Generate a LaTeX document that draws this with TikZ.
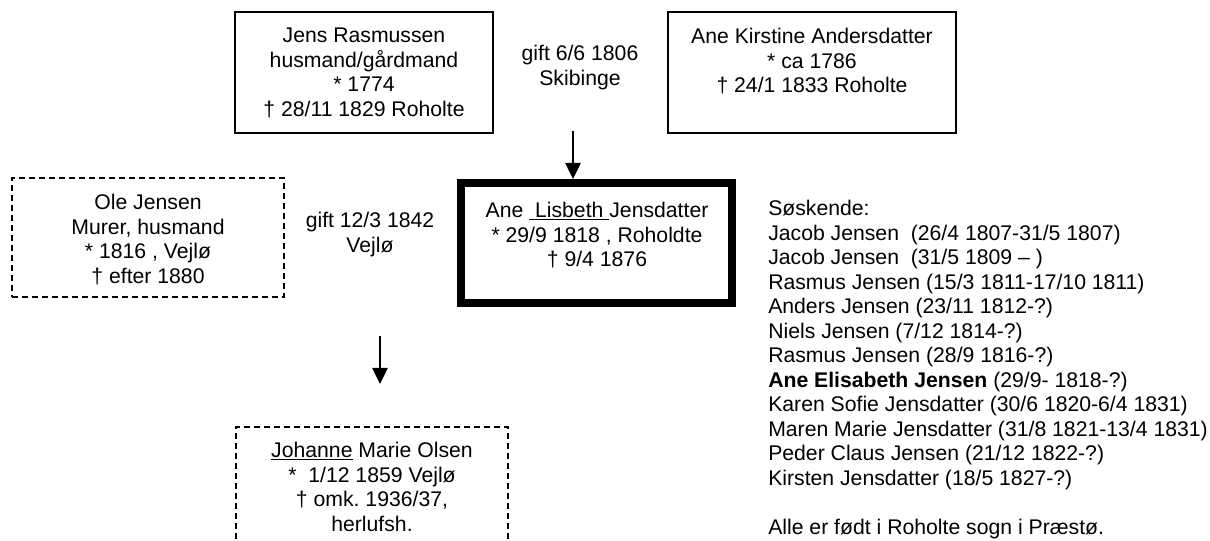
\documentclass[tikz,border=0pt]{standalone}
\usepackage{fontspec}
\setmainfont{Liberation Sans}
\usetikzlibrary{arrows.meta}
\frenchspacing
\tikzset{
  solidbox/.style={draw, line width=1pt, inner sep=0pt},
  dashbox/.style={draw, line width=1pt, inner sep=0pt, dash pattern=on 4.5pt off 3pt},
  mainbox/.style={draw, line width=6pt, inner sep=0pt},
  txt/.style={inner sep=0pt, align=center, anchor=north, font=\fontsize{15.9pt}{18.4pt}\selectfont\frenchspacing},
  conn/.style={line width=1pt, -{Triangle[width=11.5pt,length=12pt]}}
}
\begin{document}
\begin{tikzpicture}[x=0.75pt,y=-0.75pt]
\useasboundingbox (0,0) rectangle (1210,541);
\clip (0,0) rectangle (1210,541);
\fill[white] (0,0) rectangle (1210,541);
% parents
\node[solidbox, minimum width=258*0.75pt, minimum height=121*0.75pt] (jens) at (364,72.5) {};
\node[txt] (jenst) at (364,28) {Jens Rasmussen\\husmand/gårdmand\\{*} 1774\\† 28/11 1829 Roholte};
\node[txt] (gift1) at (580,45) {gift 6/6 1806\\Skibinge};
\node[solidbox, minimum width=288*0.75pt, minimum height=121*0.75pt] (anek) at (812,72.5) {};
\node[txt] (anekt) at (812,28) {Ane Kirstine Andersdatter\\{*} ca 1786\\† 24/1 1833 Roholte};
% spouse
\node[dashbox, minimum width=272*0.75pt, minimum height=119*0.75pt] (ole) at (148,237.5) {};
\node[txt] (olet) at (148,194) {Ole Jensen\\Murer, husmand\\{*} 1816 , Vejlø\\† efter 1880};
\node[txt] (gift2) at (370,212) {gift 12/3 1842\\Vejlø};
% main person
\node[mainbox, minimum width=271*0.75pt, minimum height=120*0.75pt] (lis) at (596.5,243) {};
\node[txt] (list) at (597,202) {Ane \underline{\ Lisbeth\ }Jensdatter\\{*} 29/9 1818 , Roholdte\\† 9/4 1876};
% arrows
\coordinate (a1) at (573,131);
\draw[conn] (a1) -- (a1 |- lis.north);
\coordinate (a2s) at (380,336);
\coordinate (a2e) at (380,384);
\draw[conn] (a2s) -- (a2e);
% child
\node[dashbox, minimum width=272*0.75pt, minimum height=140*0.75pt] (joh) at (372,497) {};
\node[txt] (joht) at (372,442) {\underline{Johanne} Marie Olsen\\{*}\ \ 1/12 1859 Vejlø\\† omk. 1936/37,\\herlufsh.};
% siblings
\node[txt, align=left, anchor=north west] (sos) at (768,200) {Søskende:\\
Jacob Jensen\ \ (26/4 1807-31/5 1807)\\
Jacob Jensen\ \ (31/5 1809 – )\\
Rasmus Jensen (15/3 1811-17/10 1811)\\
Anders Jensen (23/11 1812-?)\\
Niels Jensen (7/12 1814-?)\\
Rasmus Jensen (28/9 1816-?)\\
\textbf{Ane Elisabeth Jensen} (29/9- 1818-?)\\
Karen Sofie Jensdatter (30/6 1820-6/4 1831)\\
Maren Marie Jensdatter (31/8 1821-13/4 1831)\\
Peder Claus Jensen (21/12 1822-?)\\
Kirsten Jensdatter (18/5 1827-?)\\
\strut\\
Alle er født i Roholte sogn i Præstø.};
\end{tikzpicture}
\end{document}
